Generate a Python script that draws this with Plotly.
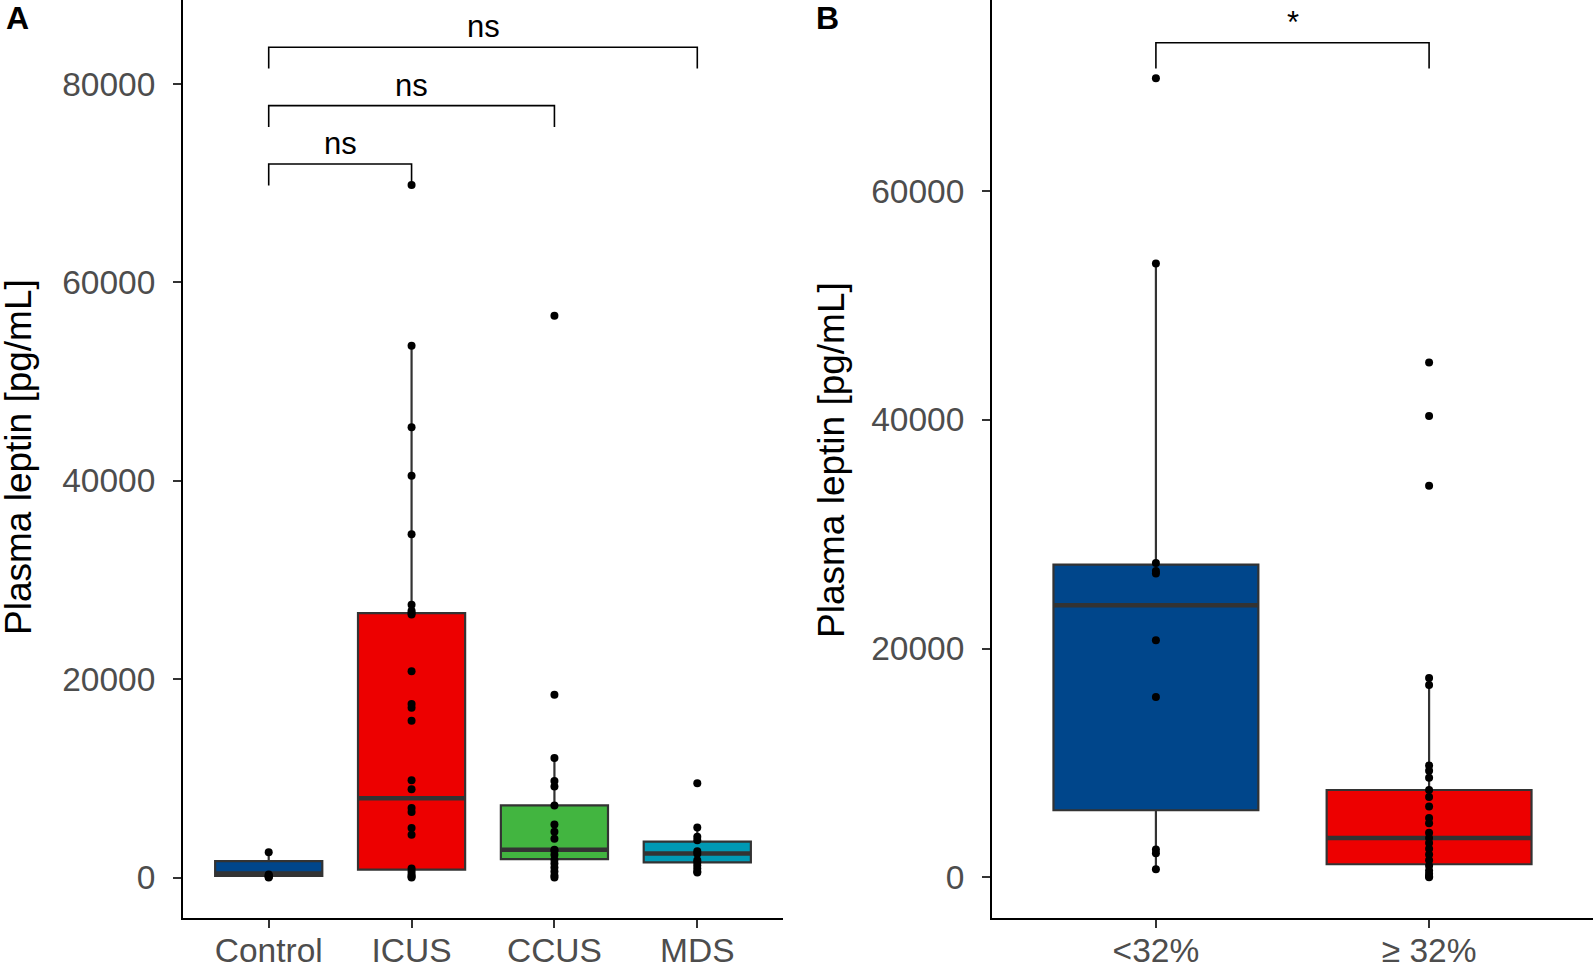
import plotly.graph_objects as go

W, H = 1594, 967

# ---------------- Panel A data ----------------
groups_a = ["Control", "ICUS", "CCUS", "MDS"]
colors_a = ["#00468B", "#ED0000", "#42B540", "#0099B4"]
q1_a = [160, 800, 1850, 1520]
median_a = [400, 8000, 2800, 2420]
q3_a = [1650, 26650, 7280, 3620]
lowerfence_a = [0, 0, 0, 500]
upperfence_a = [2550, 53600, 12050, 5030]

points_control = [2550, 300, 200, 100, 50, 0]
points_icus = [69800, 53600, 45400, 40500, 34600, 27500, 26900, 26700, 26500,
               20800, 17500, 17100, 15800, 9800, 8900, 7000, 6600, 5000, 4300,
               900, 600, 300, 100, 0]
points_ccus = [56640, 18430, 12050, 9740, 9170, 7260, 5350, 4600, 3910, 2800,
               2700, 2300, 1800, 1400, 1000, 600, 200, 0]
points_mds = [9490, 5030, 4100, 3750, 2650, 2400, 1750, 1500, 1200, 900, 600, 500]
points_a = [points_control, points_icus, points_ccus, points_mds]

yticks_a = [0, 20000, 40000, 60000, 80000]

# comparisons: (group index a, group index b, bracket height, label)
brackets_a_from = [1, 1, 1]
brackets_a_to = [2, 3, 4]
brackets_a_y = [71920, 77810, 83700]
brackets_a_label = ["ns", "ns", "ns"]
tip_a = 2150

# ---------------- Panel B data ----------------
groups_b = ["<32%", "\u2265 32%"]
colors_b = ["#00468B", "#ED0000"]
q1_b = [5860, 1140]
median_b = [23790, 3430]
q3_b = [27330, 7630]
lowerfence_b = [710, 0]
upperfence_b = [53660, 17430]

points_low = [69840, 53660, 27470, 26780, 26550, 20710, 15750, 2420, 2100, 710]
points_high = [45010, 40320, 34230, 17430, 16820, 9770, 9310, 8700, 7630, 7010,
               6190, 5180, 4720, 3890, 3430, 3000, 2500, 2000, 1500, 1000, 600,
               300, 100, 0]
points_b = [points_low, points_high]

yticks_b = [0, 20000, 40000, 60000]

brackets_b_from = [1]
brackets_b_to = [2]
brackets_b_y = [72950]
brackets_b_label = ["*"]
tip_b = 2240

# ---------------- styling ----------------
FONT = "Arial, Liberation Sans, sans-serif"
BOX_LINE = "#333333"
BOX_W = 0.75

fig = go.Figure()


def add_panel(groups, colors, q1, med, q3, lo, hi, pts, xa, ya):
    for i, g in enumerate(groups):
        xpos = i + 1
        fig.add_trace(go.Box(
            x=[xpos], q1=[q1[i]], median=[med[i]], q3=[q3[i]],
            lowerfence=[lo[i]], upperfence=[hi[i]],
            width=BOX_W, whiskerwidth=0, boxpoints=False,
            fillcolor=colors[i], line=dict(color=BOX_LINE, width=2.2),
            xaxis=xa, yaxis=ya, showlegend=False, hoverinfo="skip"))
    for i, g in enumerate(groups):
        xpos = i + 1
        fig.add_trace(go.Scatter(
            x=[xpos - BOX_W / 2, xpos + BOX_W / 2], y=[med[i], med[i]],
            mode="lines", line=dict(color=BOX_LINE, width=4.5),
            xaxis=xa, yaxis=ya, showlegend=False, hoverinfo="skip"))
    for i, g in enumerate(groups):
        xpos = i + 1
        fig.add_trace(go.Scatter(
            x=[xpos] * len(pts[i]), y=pts[i], mode="markers",
            marker=dict(color="black", size=8, line=dict(width=0)),
            xaxis=xa, yaxis=ya, showlegend=False, hoverinfo="skip"))


def add_brackets(frm, to, ys, labels, tip, xa, ya):
    for a, b, y, lab in zip(frm, to, ys, labels):
        fig.add_trace(go.Scatter(
            x=[a, a, b, b], y=[y - tip, y, y, y - tip], mode="lines",
            line=dict(color="black", width=1.6),
            xaxis=xa, yaxis=ya, showlegend=False, hoverinfo="skip"))
        fig.add_annotation(
            x=(a + b) / 2, y=y, xref=xa, yref=ya, text=lab, showarrow=False,
            yanchor="bottom", yshift=1,
            font=dict(family=FONT, size=31, color="black"))


add_panel(groups_a, colors_a, q1_a, median_a, q3_a, lowerfence_a, upperfence_a,
          points_a, "x", "y")
add_brackets(brackets_a_from, brackets_a_to, brackets_a_y, brackets_a_label,
             tip_a, "x", "y")
add_panel(groups_b, colors_b, q1_b, median_b, q3_b, lowerfence_b, upperfence_b,
          points_b, "x2", "y2")
add_brackets(brackets_b_from, brackets_b_to, brackets_b_y, brackets_b_label,
             tip_b, "x2", "y2")

ydom = [(H - 918) / H, 1.0]

common_x = dict(showline=True, linecolor="black", linewidth=2, ticks="outside",
                ticklen=8, tickwidth=2, tickcolor="#333333", showgrid=False,
                zeroline=False, ticklabelstandoff=-6, automargin=False,
                tickfont=dict(family=FONT, size=33.5, color="#4D4D4D"))
common_y = dict(showline=True, linecolor="black", linewidth=2, ticks="outside",
                ticklen=8, tickwidth=2, tickcolor="#333333", showgrid=False,
                zeroline=False, ticklabelstandoff=11, automargin=False,
                tickfont=dict(family=FONT, size=33.5, color="#4D4D4D"))

fig.update_layout(
    width=W, height=H, autosize=False,
    margin=dict(l=0, r=0, t=0, b=0, pad=0),
    paper_bgcolor="white", plot_bgcolor="white",
    xaxis=dict(domain=[183 / W, 783 / W], range=[0.4, 4.6],
               tickvals=[1, 2, 3, 4], ticktext=groups_a, anchor="y", **common_x),
    yaxis=dict(domain=ydom, range=[-4083, 88458], tickvals=yticks_a,
               ticktext=[str(v) for v in yticks_a], anchor="x", **common_y),
    xaxis2=dict(domain=[992 / W, 1593 / W], range=[0.4, 2.6],
                tickvals=[1, 2], ticktext=groups_b, anchor="y2", **common_x),
    yaxis2=dict(domain=ydom, range=[-3558, 76687], tickvals=yticks_b,
                ticktext=[str(v) for v in yticks_b], anchor="x2", **common_y),
)

# axis titles and panel letters
fig.add_annotation(x=19 / W, y=(H - 457) / H, xref="paper", yref="paper",
                   xanchor="center", yanchor="middle",
                   text="Plasma leptin [pg/mL]", textangle=-90, showarrow=False,
                   font=dict(family=FONT, size=37, color="black"))
fig.add_annotation(x=832 / W, y=(H - 460) / H, xref="paper", yref="paper",
                   xanchor="center", yanchor="middle",
                   text="Plasma leptin [pg/mL]", textangle=-90, showarrow=False,
                   font=dict(family=FONT, size=37, color="black"))
fig.add_annotation(x=17 / W, y=1.0, xref="paper", yref="paper", text="<b>A</b>",
                   showarrow=False, xanchor="center", yanchor="top", yshift=2,
                   font=dict(family=FONT, size=32, color="black"))
fig.add_annotation(x=828 / W, y=1.0, xref="paper", yref="paper", text="<b>B</b>",
                   showarrow=False, xanchor="center", yanchor="top", yshift=2,
                   font=dict(family=FONT, size=32, color="black"))

fig.write_html(
    "out.html",
    config={"displayModeBar": False},
    post_script="document.body.style.margin='0';document.body.style.overflow='hidden';",
)
